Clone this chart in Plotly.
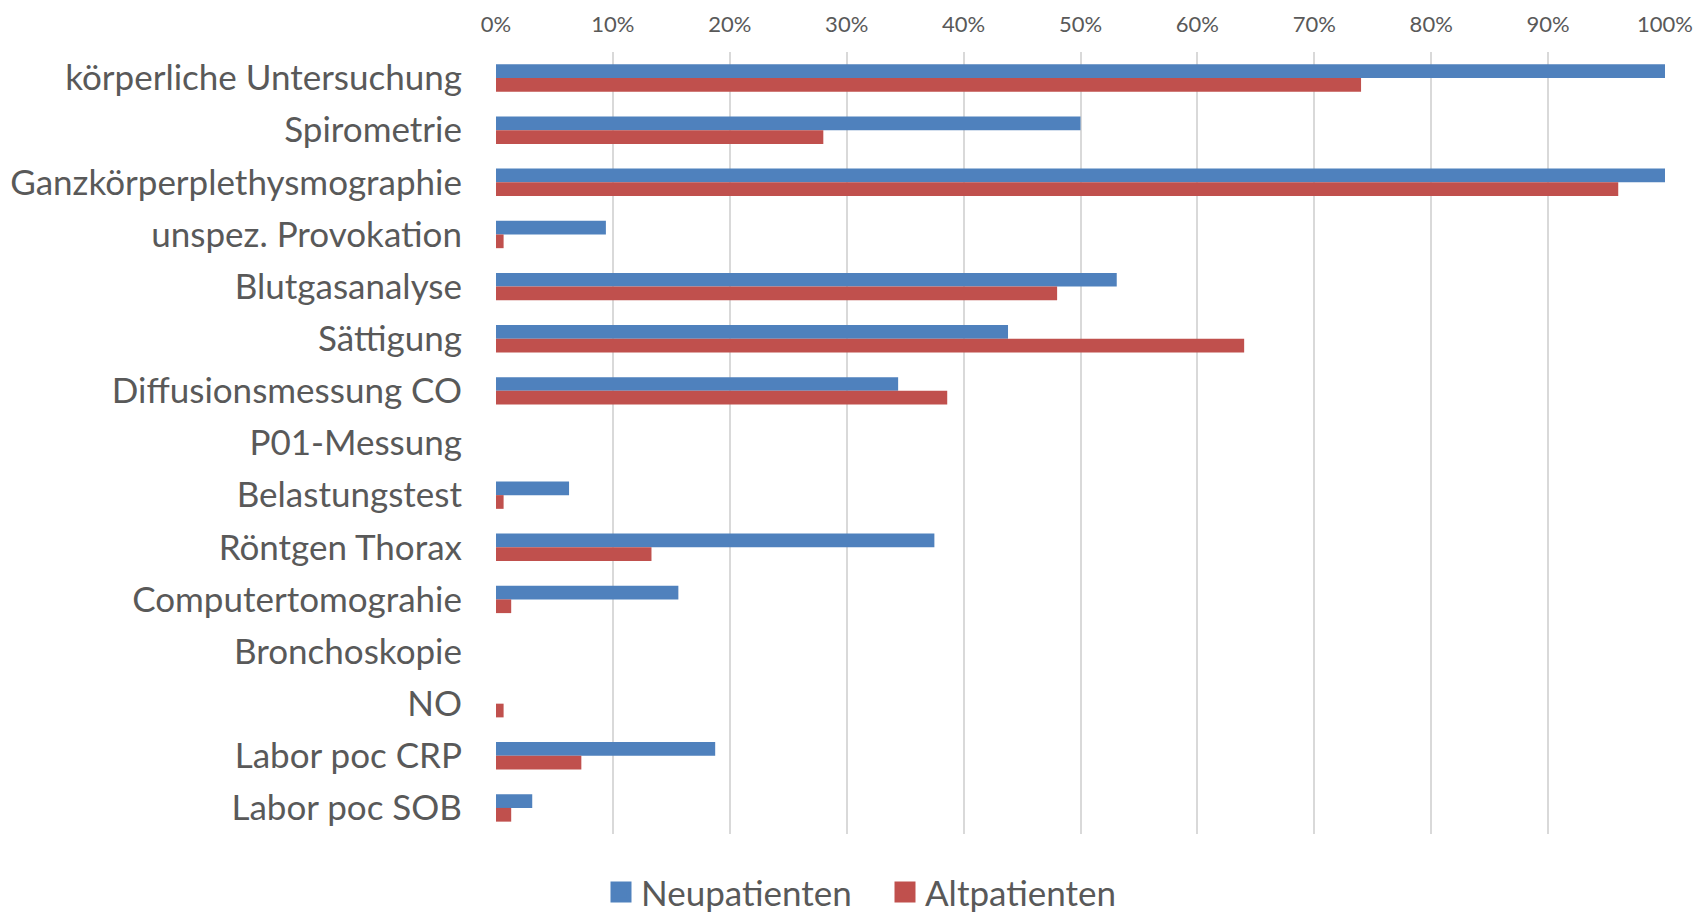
import plotly.graph_objects as go

categories = [
    "körperliche Untersuchung", "Spirometrie", "Ganzkörperplethysmographie",
    "unspez. Provokation", "Blutgasanalyse", "Sättigung", "Diffusionsmessung CO",
    "P01-Messung", "Belastungstest", "Röntgen Thorax", "Computertomograhie",
    "Bronchoskopie", "NO", "Labor poc CRP", "Labor poc SOB",
]
neupatienten = [1.00, 0.50, 1.00, 0.094, 0.531, 0.438, 0.344, 0.0, 0.0625, 0.375,
                0.156, 0.0, 0.0, 0.1875, 0.031]
altpatienten = [0.74, 0.28, 0.96, 0.0065, 0.48, 0.64, 0.386, 0.0, 0.0065, 0.133,
                0.013, 0.0, 0.0065, 0.073, 0.013]
series_names = ["Neupatienten", "Altpatienten"]
x_ticks = [0, 0.1, 0.2, 0.3, 0.4, 0.5, 0.6, 0.7, 0.8, 0.9, 1.0]

BLUE = "#4F81BD"
RED = "#C0504D"
TXT = "#595959"
FONT = "Lato"

W, H = 1699, 906  # page body adds an 8px margin

fig = go.Figure()
legend_ids = ["legend", "legend2"]
for name, vals, col, lg in zip(series_names, [neupatienten, altpatienten], [BLUE, RED], legend_ids):
    fig.add_trace(go.Bar(y=categories, x=vals, name=name, orientation="h",
                         marker=dict(color=col, line=dict(width=0)),
                         showlegend=False, legendgroup=name))
    # legend key: a larger square, as in the original
    fig.add_trace(go.Scatter(x=[None], y=[None], mode="markers", name=name,
                             marker=dict(symbol="square", size=16, color=col,
                                         line=dict(color=col, width=5)),
                             showlegend=True, legendgroup=name, legend=lg))

legend_style = dict(orientation="h", xref="container", yref="container",
                    xanchor="left", y=0.024, yanchor="middle",
                    font=dict(family=FONT, size=35, color=TXT),
                    itemwidth=30, bgcolor="rgba(0,0,0,0)")

fig.update_layout(
    width=W, height=H,
    margin=dict(l=488, r=42, t=44, b=80, autoexpand=False),
    paper_bgcolor="white", plot_bgcolor="white",
    barmode="group", bargap=0.474, bargroupgap=0,
    font=dict(family=FONT, color=TXT),
    legend=dict(x=(623 - 8 - 22) / W, **legend_style),
    legend2=dict(x=(907 - 8 - 22) / W, **legend_style),
    showlegend=True,
)
fig.update_xaxes(
    side="top", range=[0, 1], tickvals=x_ticks, tickformat=".0%",
    showgrid=True, gridcolor="#D9D9D9", gridwidth=1.5,
    zeroline=False, showline=False, ticks="", automargin=False,
    tickfont=dict(family=FONT, size=22, color=TXT),
    ticklabelstandoff=15,
)
fig.update_yaxes(
    categoryorder="array", categoryarray=categories, autorange="reversed",
    showgrid=False, zeroline=False, showline=False, ticks="", automargin=False,
    tickfont=dict(family=FONT, size=35, color=TXT),
    ticklabelstandoff=33,
)

fig.write_html("out.html")
